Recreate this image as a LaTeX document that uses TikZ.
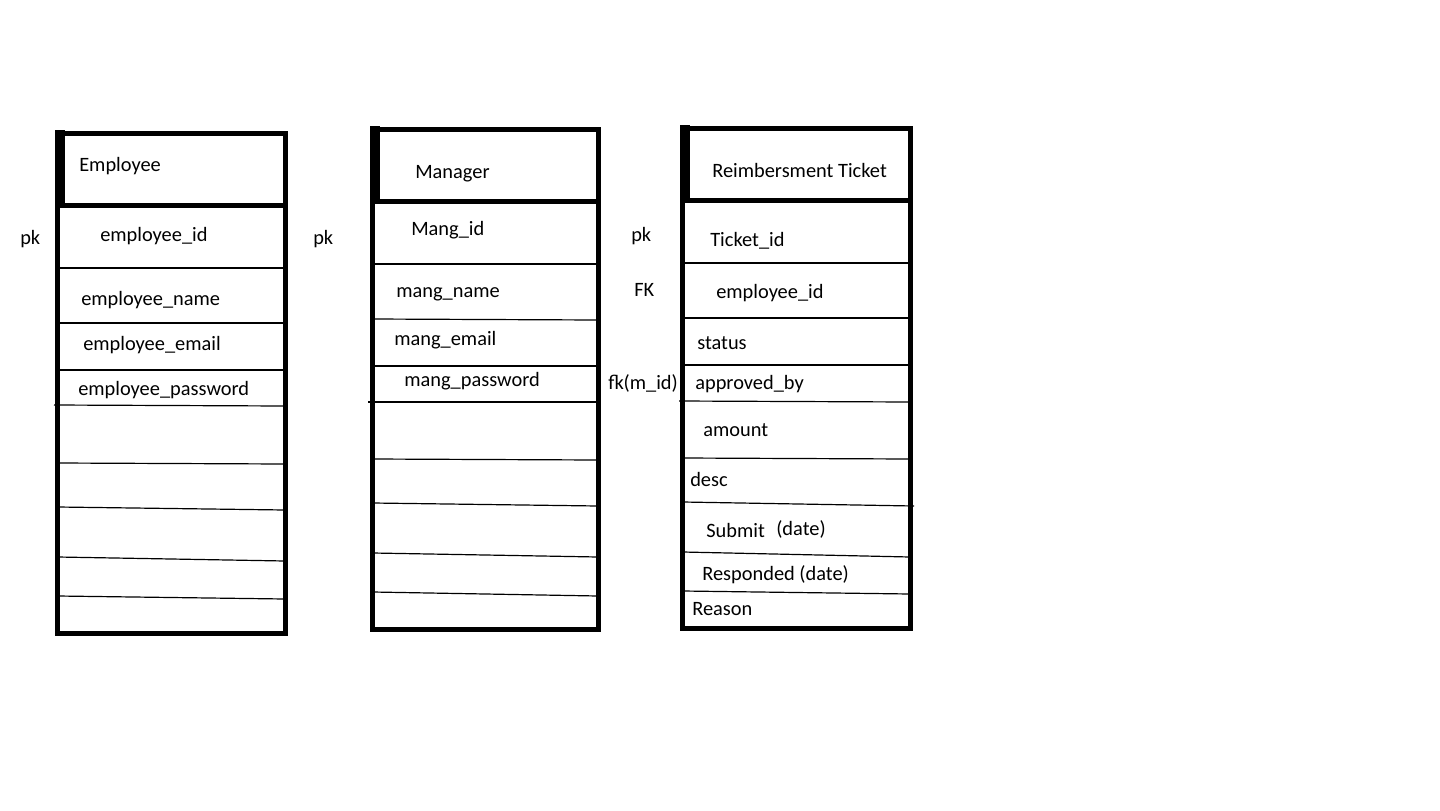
\documentclass[tikz,border=0pt]{standalone}
\usepackage{fontspec}
\setmainfont{Carlito}
\usepackage{tikz}
\usetikzlibrary{calc}
\tikzset{
  tablebox/.style={
    draw,
    line width=3.55pt,
  },
  headband/.style={
    fill,
  },
  rowline/.style={
    draw,
    line width=0.85pt,
  },
  field/.style={
    anchor=base west,
    inner sep=0pt,
    font=\fontsize{14.5}{17}\selectfont
  },
  keytag/.style={
    anchor=base west,
    inner sep=0pt,
    font=\fontsize{14.5}{17}\selectfont
  },
  every picture/.style = {
    x=0.025cm,
    y=-0.025cm
  }
}

\begin{document}
\begin{tikzpicture}
        \useasboundingbox (0,0) rectangle (1440,810);
        % Employee
        \draw[tablebox] (57.5,133) rectangle (285.5,633);
        \fill[headband] (55,130) rectangle (65,207);
        \draw[tablebox] (57.5,205) -- (285.5,205);
        \foreach \ya/\yb/\xa in {268/268/58,323/323/58,370/370/58,405/406/54,463/464/58,507/510/58,557/561/58,596/599/58}
          \draw[rowline] (\xa,\ya) -- (285,\yb);
        \node[field] (emptitle) at (79,171.5) {Employee};
        \node[field] (empid) at (100,241.5) {employee\_id};
        \node[field] (empname) at (81,305) {employee\_name};
        \node[field] (empemail) at (83,350.5) {employee\_email};
        \node[field] (emppass) at (78,395) {employee\_password};
        \node[keytag] (emppk) at (20,244) {pk};
        % Manager
        \draw[tablebox] (372.5,129) rectangle (598.5,629.5);
        \fill[headband] (370,126) rectangle (380,203);
        \draw[tablebox] (372.5,201) -- (598.5,201);
        \foreach \ya/\yb/\xa in {264/264/373,319/320/373,366/366/373,402/402/368,459/460/373,503/506/373,553/557/373,592/596/373}
          \draw[rowline] (\xa,\ya) -- (598,\yb);
        \node[field] (mngtitle) at (415,178) {Manager};
        \node[field] (mngid) at (411,235) {Mang\_id};
        \node[field] (mngname) at (396,297.5) {mang\_name};
        \node[field] (mngemail) at (394,345) {mang\_email};
        \node[field] (mngpass) at (404,386.5) {mang\_password};
        \node[keytag] (mngpk) at (313,244) {pk};
        % Reimbersment Ticket
        \draw[tablebox] (682.5,128) rectangle (910.5,628.5);
        \fill[headband] (680,125) rectangle (690,203);
        \draw[tablebox] (682.5,200.5) -- (910.5,200.5);
        \foreach \ya/\yb/\xa/\xb in {263/263/683/910,318/318/683/910,365/365/683/910,401/402/679/910,458/459/683/910,502/506/683/914,552/557/683/910,591/594/683/910}
          \draw[rowline] (\xa,\ya) -- (\xb,\yb);
        \node[field] (tkttitle) at (712,177) {Reimbersment Ticket};
        \node[field] (tktid) at (710,246) {Ticket\_id};
        \node[field] (tktemp) at (716,298) {employee\_id};
        \node[field] (tktstatus) at (697,349) {status};
        \node[field] (tktappr) at (695,389) {approved\_by};
        \node[field] (tktamount) at (703,436) {amount};
        \node[field] (tktdesc) at (690,486) {desc};
        \node[field] (tktsubmit) at (706,537.5) {Submit};
        \node[field] (tktsubdate) at (776,535.5) {(date)};
        \node[field] (tktresp) at (702,580) {Responded (date)};
        \node[field] (tktreason) at (692,615.5) {Reason};
        \node[keytag] (tktpk) at (631,241.5) {pk};
        \node[keytag] (tktfk) at (634,296) {FK};
        \node[keytag] (tktfkm) at (608,389) {fk(m\_id)};
    \end{tikzpicture}
\end{document}
